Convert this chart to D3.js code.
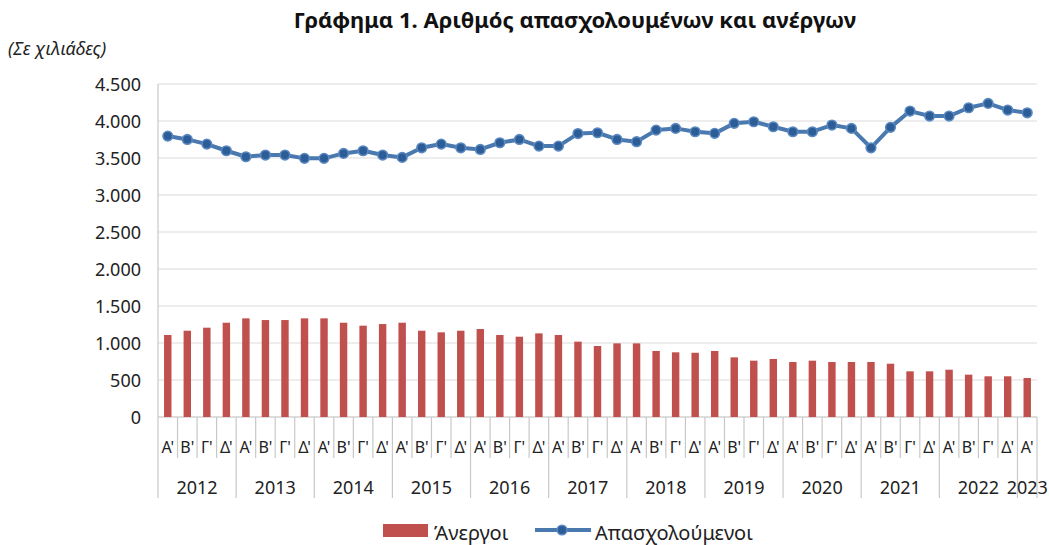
<!DOCTYPE html>
<html lang="el">
<head>
<meta charset="utf-8">
<title>Γράφημα 1</title>
<script src="https://cdn.jsdelivr.net/npm/d3@7"></script>
<style>
  body { margin: 0; background: #fff; }
  text { font-family: "Noto Sans", "Open Sans", sans-serif; fill: #333; }
</style>
</head>
<body>
<script>
// data, in thousands
var years = ["2012","2013","2014","2015","2016","2017","2018","2019","2020","2021","2022","2023"];
var quarterNames = ["Α'","Β'","Γ'","Δ'"];
var unemployed = [1108,1166,1207,1274,1333,1310,1310,1333,1333,1274,1234,1256,1274,1166,1144,1166,1189,1108,1085,1130,1108,1018,959,995,995,892,874,868,892,806,761,784,743,761,743,743,743,720,617,617,639,572,550,550,527];
var employed = [3796,3751,3688,3598,3517,3540,3540,3495,3495,3562,3598,3540,3508,3638,3688,3638,3616,3706,3751,3661,3661,3830,3841,3751,3720,3877,3900,3855,3833,3968,3990,3922,3855,3855,3945,3900,3638,3914,4134,4067,4067,4179,4238,4148,4111];
var yTicks = [0,500,1000,1500,2000,2500,3000,3500,4000,4500];

var w = 1049, h = 545;
var plotLeft = 158, plotRight = 1037, plotTop = 84, plotBottom = 417;
var fmt = function (d) { return d3.format(",")(d).replace(/,/g, "."); };

var idx = d3.range(unemployed.length);
var x = d3.scaleBand().domain(idx).range([plotLeft, plotRight]);
var y = d3.scaleLinear().domain([0, 4500]).range([plotBottom, plotTop]);

var svg = d3.select("body").append("svg")
    .attr("width", w)
    .attr("height", h);

// title
svg.append("text")
    .attr("x", 575).attr("y", 28)
    .attr("text-anchor", "middle")
    .attr("font-size", "22px")
    .attr("font-weight", "bold")
    .style("fill", "#111")
    .text("Γράφημα 1. Αριθμός απασχολουμένων και ανέργων");

svg.append("text")
    .attr("x", 8).attr("y", 55)
    .attr("font-size", "18px")
    .attr("font-style", "italic")
    .style("fill", "#222")
    .text("(Σε χιλιάδες)");

// gridlines
svg.selectAll("line.grid")
    .data(yTicks)
    .enter()
    .append("line")
    .attr("class", "grid")
    .attr("x1", plotLeft).attr("x2", plotRight)
    .attr("y1", function (d) { return y(d); })
    .attr("y2", function (d) { return y(d); })
    .attr("stroke", function (d) { return d === 0 ? "#bbb" : "#dcdcdc"; })
    .attr("stroke-width", 1.2);

// y axis
var yAxis = d3.axisLeft(y).tickValues(yTicks).tickFormat(fmt).tickSize(0).tickPadding(0);
var gy = svg.append("g")
    .attr("transform", "translate(141,0)")
    .call(yAxis);
gy.select(".domain").remove();
gy.selectAll("text")
    .attr("font-size", "18px")
    .attr("font-family", "\"Noto Sans\", sans-serif")
    .attr("dy", "0.35em")
    .style("fill", "#222");

svg.append("line")
    .attr("x1", plotLeft).attr("x2", plotLeft)
    .attr("y1", plotTop).attr("y2", 498)
    .attr("stroke", "#c8c8c8").attr("stroke-width", 1.2);

// category axis: quarter ticks and year separators
svg.selectAll("line.qtick")
    .data(idx)
    .enter()
    .append("line")
    .attr("class", "qtick")
    .attr("x1", function (i) { return x(i) + x.bandwidth(); })
    .attr("x2", function (i) { return x(i) + x.bandwidth(); })
    .attr("y1", plotBottom)
    .attr("y2", function (i) { return (i % 4 === 3 || i === idx.length - 1) ? 498 : 458; })
    .attr("stroke", "#c8c8c8").attr("stroke-width", 1.2);

svg.selectAll("text.q")
    .data(idx)
    .enter()
    .append("text")
    .attr("class", "q")
    .attr("x", function (i) { return x(i) + x.bandwidth() / 2; })
    .attr("y", 453)
    .attr("text-anchor", "middle")
    .attr("font-size", "16px")
    .style("fill", "#222")
    .text(function (i) { return quarterNames[i % 4]; });

svg.selectAll("text.yr")
    .data(years)
    .enter()
    .append("text")
    .attr("class", "yr")
    .attr("x", function (d, k) {
        var a = x(k * 4);
        var last = Math.min(k * 4 + 3, idx.length - 1);
        var b = x(last) + x.bandwidth();
        return (a + b) / 2;
    })
    .attr("y", 494)
    .attr("text-anchor", "middle")
    .attr("font-size", "18px")
    .style("fill", "#222")
    .text(function (d) { return d; });

// bars
var bw = x.bandwidth() * 0.38;
svg.selectAll("rect.bar")
    .data(unemployed)
    .enter()
    .append("rect")
    .attr("class", "bar")
    .attr("x", function (d, i) { return x(i) + (x.bandwidth() - bw) / 2; })
    .attr("y", function (d) { return y(d); })
    .attr("width", bw)
    .attr("height", function (d) { return plotBottom - y(d); })
    .attr("fill", "#c0504d");

// employed line
var line = d3.line()
    .x(function (d, i) { return x(i) + x.bandwidth() / 2; })
    .y(function (d) { return y(d); });

svg.append("path")
    .datum(employed)
    .attr("d", line)
    .attr("fill", "none")
    .attr("stroke", "#4a79b0")
    .attr("stroke-width", 4)
    .attr("stroke-linejoin", "round");

svg.selectAll("circle.pt")
    .data(employed)
    .enter()
    .append("circle")
    .attr("class", "pt")
    .attr("cx", function (d, i) { return x(i) + x.bandwidth() / 2; })
    .attr("cy", function (d) { return y(d); })
    .attr("r", 4.8)
    .attr("fill", "#2d5d96")
    .attr("stroke", "#5a88c0")
    .attr("stroke-width", 1.6);

// legend
var lg = svg.append("g");
lg.append("rect")
    .attr("x", 383).attr("y", 524)
    .attr("width", 45).attr("height", 13)
    .attr("fill", "#c0504d");
lg.append("text")
    .attr("x", 434).attr("y", 540)
    .attr("font-size", "20px")
    .style("fill", "#222")
    .text("Άνεργοι");
lg.append("line")
    .attr("x1", 535).attr("x2", 591)
    .attr("y1", 530).attr("y2", 530)
    .attr("stroke", "#4a79b0").attr("stroke-width", 4);
lg.append("circle")
    .attr("cx", 562).attr("cy", 530).attr("r", 4.8)
    .attr("fill", "#2d5d96")
    .attr("stroke", "#5a88c0")
    .attr("stroke-width", 1.6);
lg.append("text")
    .attr("x", 595).attr("y", 540)
    .attr("font-size", "20px")
    .style("fill", "#222")
    .text("Απασχολούμενοι");
</script>
</body>
</html>
